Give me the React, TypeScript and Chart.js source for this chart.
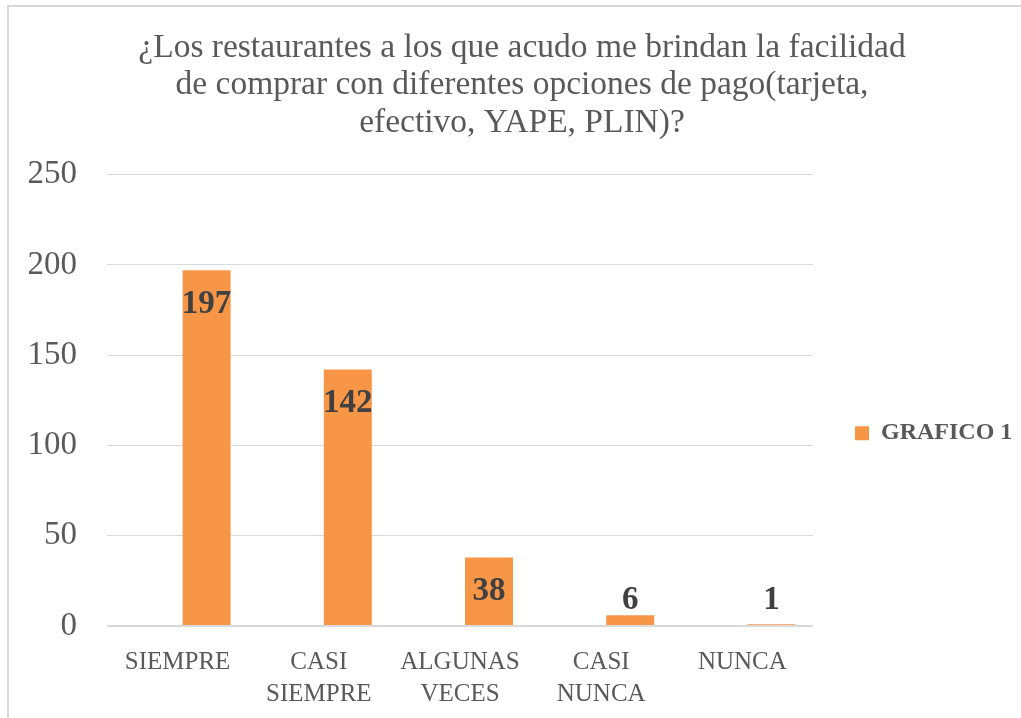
import React, { useEffect, useRef } from "react";
import { Chart, registerables } from "chart.js";

Chart.register(...registerables);

const titleLines = [
  "¿Los restaurantes a los que acudo me brindan la facilidad",
  "de comprar con diferentes opciones de pago(tarjeta,",
  "efectivo, YAPE, PLIN)?",
];
const categories = [["SIEMPRE"], ["CASI", "SIEMPRE"], ["ALGUNAS", "VECES"], ["CASI", "NUNCA"], ["NUNCA"]];
const seriesName = "GRAFICO 1";
const values = [197, 142, 38, 6, 1];
const spacerValues = [null, null, null, null, null];
const yMin = 0;
const yMax = 250;
const yStep = 50;

const FONT = "'Liberation Serif', 'DejaVu Serif', serif";
const TEXT = "#595959";
const LABEL = "#404040";
const BAR = "#F79646";
const GRID = "#D9D9D9";

const valueLabels = {
  id: "valueLabels",
  afterDatasetsDraw(chart: any) {
    const ctx = chart.ctx;
    const meta = chart.getDatasetMeta(1);
    const base = chart.scales.y.getPixelForValue(0);
    ctx.save();
    ctx.font = `bold 33px ${FONT}`;
    ctx.fillStyle = LABEL;
    ctx.textAlign = "center";
    ctx.textBaseline = "middle";
    meta.data.forEach((bar: any, i: number) => {
      const y = Math.min(bar.y + 34, base - 26);
      ctx.fillText(String(values[i]), bar.x, y);
    });
    ctx.restore();
  },
};

export default function App() {
  const ref = useRef<HTMLCanvasElement>(null);
  useEffect(() => {
    if (!ref.current) return;
    const chart = new Chart(ref.current, {
      type: "bar",
      data: {
        labels: categories,
        datasets: [
          {
            label: "",
            data: spacerValues,
            backgroundColor: "rgba(0,0,0,0)",
          },
          {
            label: seriesName,
            data: values,
            backgroundColor: BAR,
            borderWidth: 0,
          },
        ],
      },
      options: {
        responsive: false,
        animation: false,
        categoryPercentage: 0.8215,
        barPercentage: 0.8276,
        layout: { padding: { left: 23, right: 0, top: 29, bottom: 0 } },
        plugins: {
          title: {
            display: true,
            text: titleLines,
            color: TEXT,
            font: { family: FONT, size: 33.5, weight: "normal", lineHeight: 1.12 },
            padding: { top: 0, bottom: 33 },
          },
          legend: {
            position: "right",
            fullSize: false,
            maxWidth: 208,
            title: { display: true, text: " ", font: { size: 10, lineHeight: 1.2 }, padding: 27 },
            labels: {
              filter: (item: any) => item.text === seriesName,
              boxWidth: 14,
              boxHeight: 14,
              padding: 42,
              color: TEXT,
              font: { family: FONT, size: 24, weight: "bold" },
            },
          },
          tooltip: { enabled: false },
        },
        scales: {
          x: {
            grid: { display: false },
            border: { display: false },
            ticks: {
              color: TEXT,
              font: { family: FONT, size: 25, lineHeight: 1.28 },
              padding: 12,
              maxRotation: 0,
              autoSkip: false,
            },
            afterFit: (s: any) => {
              s.height = 92;
            },
          },
          y: {
            min: yMin,
            max: yMax,
            grid: {
              color: GRID,
              lineWidth: (c: any) => (c.tick && c.tick.value === 0 ? 2 : 1),
              drawTicks: false,
            },
            border: { display: false },
            ticks: {
              stepSize: yStep,
              color: TEXT,
              padding: 30,
              font: { family: FONT, size: 33 },
            },
            afterFit: (s: any) => {
              s.width = 84;
            },
          },
        },
      },
      plugins: [valueLabels],
    });
    return () => chart.destroy();
  }, []);

  return (
    <div style={{ position: "fixed", left: 0, top: 0, width: 1021, height: 718, overflow: "hidden", background: "#fff" }}>
      <div
        style={{
          position: "absolute",
          left: 7,
          top: 5,
          width: 1200,
          height: 900,
          borderLeft: `2px solid ${GRID}`,
          borderTop: `2px solid ${GRID}`,
        }}
      />
      <canvas ref={ref} width={1021} height={718} style={{ position: "absolute", left: 0, top: 0 }} />
    </div>
  );
}
